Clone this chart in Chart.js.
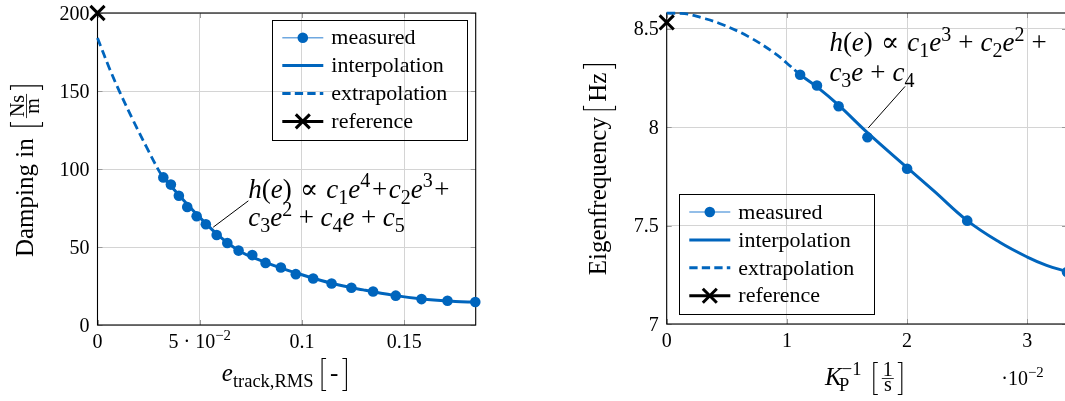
<!DOCTYPE html>
<html>
<head>
<meta charset="utf-8">
<script src="https://cdn.jsdelivr.net/npm/chart.js@4"></script>
<style>
html, body { margin: 0; padding: 0; background: #fff; overflow: hidden; width: 1065px; height: 401px; }
canvas { position: absolute; top: 0; }
#damp { left: 0; }
#freq { left: 540px; }
</style>
</head>
<body>
<canvas id="damp" width="540" height="401"></canvas>
<canvas id="freq" width="540" height="401"></canvas>
<script>
// Damping over tracking error (left plot)
const dampMeasX = [0.0322, 0.0359, 0.0398, 0.0439, 0.0485, 0.0530, 0.0583, 0.0635, 0.0690, 0.0757, 0.0822,
                   0.0897, 0.0970, 0.1055, 0.1145, 0.1242, 0.1348, 0.1459, 0.1585, 0.1712, 0.1848];
const dampMeasY = [94.6, 90.0, 82.9, 75.6, 69.7, 64.6, 57.7, 52.6, 47.7, 44.8, 39.8,
                   36.9, 32.6, 29.8, 26.6, 23.9, 21.5, 18.8, 16.6, 15.5, 14.7];
const dampFitX = [0.0322, 0.04, 0.05, 0.06, 0.07, 0.08, 0.09, 0.10, 0.115, 0.13, 0.145, 0.16, 0.175, 0.1848];
const dampFitY = [94.6, 83.0, 69.0, 56.5, 47.0, 41.3, 36.5, 32.2, 26.6, 22.5, 19.0, 16.5, 15.1, 14.7];
const dampExtraX = [0, 0.006, 0.011, 0.0175, 0.024, 0.030, 0.0322];
const dampExtraY = [184, 164, 149, 131, 114, 99, 94.6];
const dampRefX = [0];
const dampRefY = [200];
const dampXTicks = [0, 0.05, 0.1, 0.15];
const dampXLabels = ['0', '5 · 10^−2', '0.1', '0.15'];
const dampYTicks = [0, 50, 100, 150, 200];
const dampYLabels = ['0', '50', '100', '150', '200'];

// Eigenfrequency over inverse gain (right plot)
const freqMeasX = [0.0111, 0.0125, 0.0143, 0.0167, 0.0200, 0.0250, 0.0333];
const freqMeasY = [8.266, 8.212, 8.106, 7.949, 7.789, 7.525, 7.264];
const freqFitX = [0.0111, 0.0125, 0.0143, 0.0167, 0.0200, 0.0222, 0.0250, 0.0277, 0.0300, 0.0316, 0.0333];
const freqFitY = [8.266, 8.205, 8.112, 7.972, 7.794, 7.677, 7.525, 7.415, 7.340, 7.298, 7.266];
const freqExtraX = [0, 0.0015, 0.0029, 0.0044, 0.0068, 0.0090, 0.0100, 0.0111];
const freqExtraY = [8.579, 8.577, 8.556, 8.527, 8.460, 8.375, 8.325, 8.266];
const freqRefX = [0];
const freqRefY = [8.532];
const freqXTicks = [0, 0.01, 0.02, 0.03];
const freqXLabels = ['0', '1', '2', '3'];
const freqYTicks = [7, 7.5, 8, 8.5];
const freqYLabels = ['7', '7.5', '8', '8.5'];

const BLUE = '#0065bd';
const LIGHT = '#6fa8e0';
const SERIF = '"Liberation Serif", "DejaVu Serif", serif';
const TICK = 20, LAB = 25, ANN = 27, LEG = 22;
const SMALL = 0.74;

const pts = (xs, ys) => xs.map((x, i) => ({ x: x, y: ys[i] }));

// --- little rich text helpers (italic, sub, sup) ---
function fnt(st, size) {
  const small = st === 'sub' || st === 'sup';
  return (st === 'i' ? 'italic ' : '') + (small ? size * SMALL : size).toFixed(1) + 'px ' + SERIF;
}
function richW(ctx, parts, size) {
  let w = 0;
  parts.forEach(([t, st, g]) => { ctx.font = fnt(st, size); w += (g || 0) * size + ctx.measureText(t).width; });
  return w;
}
function rich(ctx, x, y, parts, size, align) {
  const w = richW(ctx, parts, size);
  let cx = align === 'center' ? x - w / 2 : align === 'right' ? x - w : x;
  ctx.textAlign = 'left';
  ctx.textBaseline = 'alphabetic';
  parts.forEach(([t, st, g]) => {
    ctx.font = fnt(st, size);
    cx += (g || 0) * size;
    const dy = st === 'sup' ? -size * 0.4 : st === 'sub' ? size * 0.22 : 0;
    ctx.fillText(t, cx, y + dy);
    cx += ctx.measureText(t).width;
  });
  return cx;
}
function parseLabel(s) {
  const p = s.split('^');
  return p.length > 1 ? [[p[0], 'r'], [p[1], 'sup']] : [[s, 'r']];
}
function bracket(ctx, x, top, bot, open) {
  const s = open ? 1 : -1;
  ctx.beginPath();
  ctx.moveTo(x + 4 * s, top); ctx.lineTo(x, top); ctx.lineTo(x, bot); ctx.lineTo(x + 4 * s, bot);
  ctx.lineWidth = 1.1; ctx.strokeStyle = '#000'; ctx.stroke();
}
// [ num/den ] or [ text ], returns end x
function innerW(ctx, num, den, size) {
  ctx.font = (den ? size * 0.8 : size).toFixed(1) + 'px ' + SERIF;
  return den ? Math.max(ctx.measureText(num).width, ctx.measureText(den).width) + 2 : ctx.measureText(num).width;
}
function bfrac(ctx, x, base, num, den, size) {
  const axis = base - size * 0.26;
  const small = size * 0.8;
  const w = innerW(ctx, num, den, size);
  const cx = x + 9 + w / 2;
  ctx.textAlign = 'center'; ctx.textBaseline = 'alphabetic';
  if (den) {
    ctx.font = small.toFixed(1) + 'px ' + SERIF;
    ctx.fillText(num, cx, axis - 3);
    ctx.fillText(den, cx, axis + 3 + small * 0.47);
    ctx.fillRect(cx - w / 2, axis - 0.4, w, 0.8);
  } else {
    ctx.font = size.toFixed(1) + 'px ' + SERIF;
    ctx.fillText(num, cx, base);
  }
  bracket(ctx, x + 1, axis - size * 0.64, axis + size * 0.64, true);
  bracket(ctx, x + 17 + w, axis - size * 0.64, axis + size * 0.64, false);
  return x + 18 + w;
}
function bfracW(ctx, num, den, size) {
  return 18 + innerW(ctx, num, den, size);
}

function drawLegend(ctx, left, top) {
  const w = 195, h = 120;
  ctx.save();
  ctx.strokeStyle = '#000'; ctx.lineWidth = 1;
  ctx.strokeRect(Math.round(left) + 0.5, Math.round(top) + 0.5, w, h);
  const rows = ['measured', 'interpolation', 'extrapolation', 'reference'];
  rows.forEach((name, i) => {
    const y = top + 18 + 27.9 * i;
    const x0 = left + 10, x1 = left + 51, xm = left + 30.5;
    ctx.beginPath(); ctx.moveTo(x0, y); ctx.lineTo(x1, y);
    ctx.setLineDash(name === 'extrapolation' ? [8.3, 4.2] : []);
    ctx.lineWidth = name === 'measured' ? 1.4 : 3;
    ctx.strokeStyle = name === 'measured' ? LIGHT : name === 'reference' ? '#000' : BLUE;
    ctx.stroke();
    ctx.setLineDash([]);
    if (name === 'measured') {
      ctx.beginPath(); ctx.arc(xm, y, 5.3, 0, Math.PI * 2); ctx.fillStyle = BLUE; ctx.fill();
    }
    if (name === 'reference') {
      ctx.beginPath();
      ctx.moveTo(xm - 7, y - 7); ctx.lineTo(xm + 7, y + 7);
      ctx.moveTo(xm - 7, y + 7); ctx.lineTo(xm + 7, y - 7);
      ctx.lineWidth = 3; ctx.strokeStyle = '#000'; ctx.stroke();
    }
    ctx.fillStyle = '#000';
    ctx.font = LEG + 'px ' + SERIF;
    ctx.textAlign = 'left'; ctx.textBaseline = 'middle';
    ctx.fillText(name, left + 59, y + 1);
  });
  ctx.restore();
}

function framePlugin(labelsX, labelsY, decorate) {
  return {
    id: 'frame',
    beforeDatasetsDraw(chart) {
      const { ctx, chartArea: a, scales: { x, y } } = chart;
      ctx.save();
      ctx.strokeStyle = '#9a9a9a'; ctx.lineWidth = 1;
      ctx.beginPath();
      x.ticks.forEach(t => {
        const px = Math.round(x.getPixelForValue(t.value)) + 0.5;
        ctx.moveTo(px, a.bottom); ctx.lineTo(px, a.bottom - 5);
        ctx.moveTo(px, a.top); ctx.lineTo(px, a.top + 5);
      });
      y.ticks.forEach(t => {
        const py = Math.round(y.getPixelForValue(t.value)) + 0.5;
        ctx.moveTo(a.left, py); ctx.lineTo(a.left + 5, py);
        ctx.moveTo(a.right, py); ctx.lineTo(a.right - 5, py);
      });
      ctx.stroke();
      ctx.strokeStyle = '#000'; ctx.lineWidth = 1.1;
      ctx.strokeRect(a.left, a.top, a.right - a.left, a.bottom - a.top);
      ctx.restore();
    },
    afterDraw(chart) {
      const { ctx, chartArea: a, scales: { x, y } } = chart;
      ctx.save();
      ctx.fillStyle = '#000';
      x.ticks.forEach((t, i) => {
        rich(ctx, x.getPixelForValue(t.value), a.bottom + 23, parseLabel(labelsX[i]), TICK, 'center');
      });
      y.ticks.forEach((t, i) => {
        rich(ctx, a.left - 8, y.getPixelForValue(t.value) + 6.5, parseLabel(labelsY[i]), TICK, 'right');
      });
      decorate(chart, ctx, a, x, y);
      ctx.restore();
    }
  };
}

function datasets(ex, ey, fx, fy, mx, my, rx, ry) {
  return [
    { label: 'reference', data: pts(rx, ry), pointStyle: 'crossRot', pointRadius: 10, pointBorderWidth: 3,
      borderColor: '#000', backgroundColor: '#000', showLine: false, clip: false, order: 0 },
    { label: 'measured', data: pts(mx, my), pointRadius: 5.3, pointBorderWidth: 0, backgroundColor: BLUE,
      borderColor: BLUE, showLine: false, clip: false, order: 1 },
    { label: 'interpolation', data: pts(fx, fy), showLine: true, borderColor: BLUE, borderWidth: 3,
      pointRadius: 0, tension: 0.4, clip: false, order: 2 },
    { label: 'extrapolation', data: pts(ex, ey), showLine: true, borderColor: BLUE, borderWidth: 2.8,
      borderDash: [8.5, 4.5], pointRadius: 0, tension: 0.4, clip: false, order: 3 }
  ];
}

function axis(min, max, ticks) {
  return {
    type: 'linear', min: min, max: max,
    afterBuildTicks: s => { s.ticks = ticks.map(v => ({ value: v })); },
    ticks: { display: false },
    grid: { color: '#d4d4d4', lineWidth: 1, drawTicks: false },
    border: { display: false }
  };
}

function baseOptions(pad, xs, ys) {
  return {
    responsive: false, animation: false, devicePixelRatio: 1,
    layout: { padding: pad },
    plugins: { legend: { display: false }, tooltip: { enabled: false } },
    scales: { x: xs, y: ys }
  };
}

// left chart
new Chart(document.getElementById('damp'), {
  type: 'scatter',
  data: { datasets: datasets(dampExtraX, dampExtraY, dampFitX, dampFitY, dampMeasX, dampMeasY, dampRefX, dampRefY) },
  options: baseOptions({ left: 97.5, top: 12.3, right: 64.3, bottom: 76 },
    axis(0, 0.185, dampXTicks), axis(0, 200, dampYTicks)),
  plugins: [framePlugin(dampXLabels, dampYLabels, (chart, ctx, a, x, y) => {
    // y title
    const cy = (a.top + a.bottom) / 2 + 2;
    ctx.save();
    ctx.translate(a.left - 64.5, cy);
    ctx.rotate(-Math.PI / 2);
    ctx.fillStyle = '#000';
    const t1 = [['Damping in', 'r']];
    const tw = richW(ctx, t1, LAB) + 0.45 * LAB + bfracW(ctx, 'Ns', 'm', LAB);
    const ex = rich(ctx, -tw / 2, 0, t1, LAB, 'left');
    bfrac(ctx, ex + 0.45 * LAB, 0, 'Ns', 'm', LAB);
    ctx.restore();
    // x title
    const xp = [['e', 'i'], ['track,RMS', 'sub']];
    const xw = richW(ctx, xp, LAB) + 0.3 * LAB + bfracW(ctx, '-', null, LAB);
    const xe = rich(ctx, (a.left + a.right) / 2 - 2 - xw / 2, a.bottom + 56, xp, LAB, 'left');
    bfrac(ctx, xe + 0.3 * LAB, a.bottom + 56, '-', null, LAB);
    // annotation
    const p0x = x.getPixelForValue(0.0566), p0y = y.getPixelForValue(62.7);
    const p1x = x.getPixelForValue(0.0738), p1y = y.getPixelForValue(79.6);
    ctx.beginPath(); ctx.moveTo(p0x, p0y); ctx.lineTo(p1x, p1y);
    ctx.lineWidth = 1; ctx.strokeStyle = '#000'; ctx.stroke();
    rich(ctx, p1x, p1y - 3, [['h', 'i'], ['(', 'r'], ['e', 'i'], [')', 'r'], ['∝', 'r', 0.3], ['c', 'i', 0.3], ['1', 'sub'],
      ['e', 'i'], ['4', 'sup'], ['+', 'r', 0.06], ['c', 'i', 0.06], ['2', 'sub'], ['e', 'i'], ['3', 'sup'], ['+', 'r', 0.06]], ANN, 'left');
    rich(ctx, p1x, p1y + 25.5, [['c', 'i'], ['3', 'sub'], ['e', 'i'], ['2', 'sup'], ['+', 'r', 0.24], ['c', 'i', 0.24], ['4', 'sub'],
      ['e', 'i'], ['+', 'r', 0.24], ['c', 'i', 0.24], ['5', 'sub']], ANN, 'left');
    drawLegend(ctx, a.right - 8.4 - 195, a.top + 6.7);
  })]
});

// right chart
new Chart(document.getElementById('freq'), {
  type: 'scatter',
  data: { datasets: datasets(freqExtraX, freqExtraY, freqFitX, freqFitY, freqMeasX, freqMeasY, freqRefX, freqRefY) },
  options: baseOptions({ left: 126.7, top: 10.7, right: 12.6, bottom: 77 },
    axis(0, 0.0333, freqXTicks), axis(7, 8.58, freqYTicks)),
  plugins: [framePlugin(freqXLabels, freqYLabels, (chart, ctx, a, x, y) => {
    // y title
    const cy = (a.top + a.bottom) / 2 + 1;
    ctx.save();
    ctx.translate(a.left - 60.7, cy);
    ctx.rotate(-Math.PI / 2);
    ctx.fillStyle = '#000';
    const yt = [['Eigenfrequency', 'r']];
    const yw = richW(ctx, yt, LAB) + 0.25 * LAB + bfracW(ctx, 'Hz', null, LAB);
    const ye = rich(ctx, -yw / 2, 0, yt, LAB, 'left');
    bfrac(ctx, ye + 0.25 * LAB, 0, 'Hz', null, LAB);
    ctx.restore();
    // x title
    const kp = [['K', 'i'], ['P', 'sub', -0.1], ['−1', 'sup', -0.3]];
    const kw = richW(ctx, kp, LAB) + 0.45 * LAB + bfracW(ctx, '1', 's', LAB);
    const ke = rich(ctx, (a.left + a.right) / 2 - 3 - kw / 2, a.bottom + 61, kp, LAB, 'left');
    bfrac(ctx, ke + 0.45 * LAB, a.bottom + 61, '1', 's', LAB);
    rich(ctx, a.right - 65.7, a.bottom + 61, [['·10', 'r'], ['−2', 'sup']], TICK, 'left');
    // annotation
    const p0x = x.getPixelForValue(0.01677), p0y = y.getPixelForValue(7.9965);
    const p1x = x.getPixelForValue(0.01983), p1y = y.getPixelForValue(8.207);
    ctx.beginPath(); ctx.moveTo(p0x, p0y); ctx.lineTo(p1x, p1y);
    ctx.lineWidth = 1; ctx.strokeStyle = '#000'; ctx.stroke();
    rich(ctx, p1x - 75.7, p1y - 35, [['h', 'i'], ['(', 'r'], ['e', 'i'], [')', 'r'], ['∝', 'r', 0.3], ['c', 'i', 0.3], ['1', 'sub'],
      ['e', 'i'], ['3', 'sup'], ['+', 'r', 0.26], ['c', 'i', 0.26], ['2', 'sub'], ['e', 'i'], ['2', 'sup'], ['+', 'r', 0.26]], ANN, 'left');
    rich(ctx, p1x - 75.7, p1y - 5, [['c', 'i'], ['3', 'sub'], ['e', 'i'], ['+', 'r', 0.26], ['c', 'i', 0.26], ['4', 'sub']], ANN, 'left');
    drawLegend(ctx, a.left + 12.6, a.bottom - 10 - 120);
  })]
});
</script>
</body>
</html>
